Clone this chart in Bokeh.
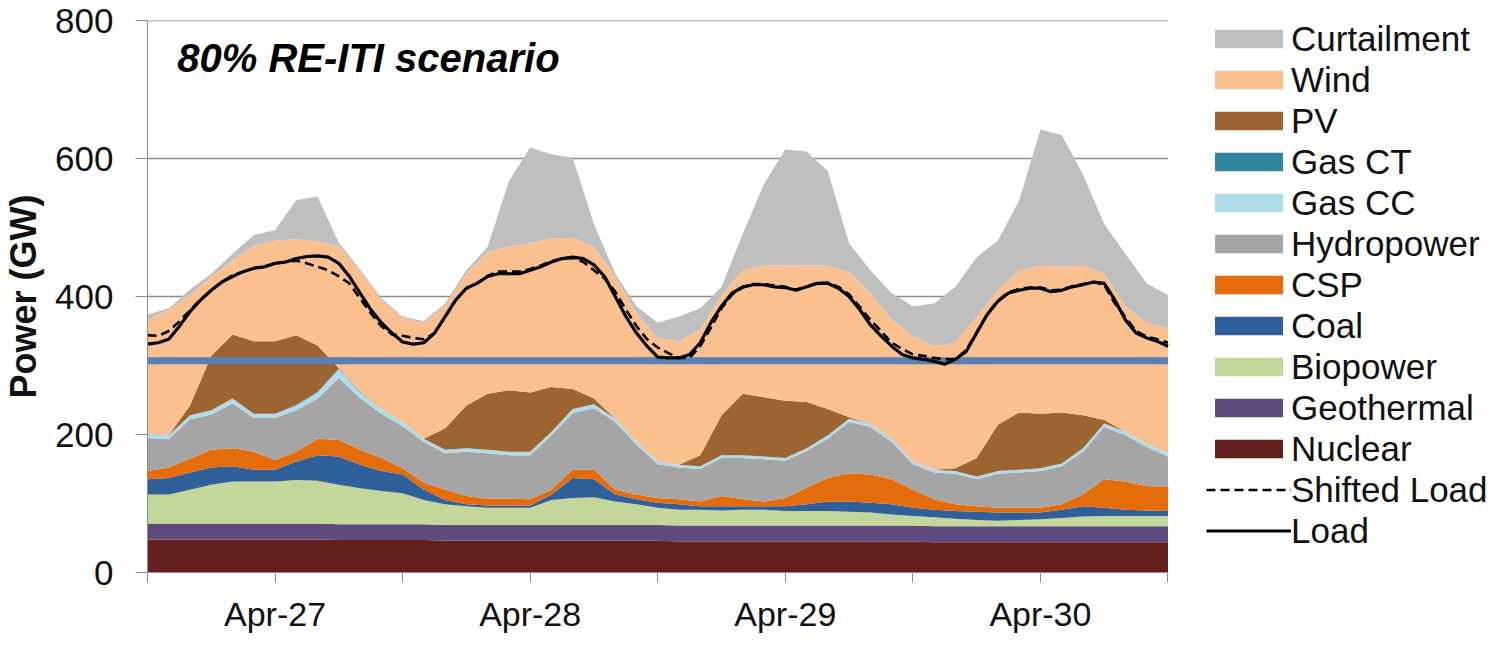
from bokeh.plotting import figure
from bokeh.models import (Range1d, FixedTicker, Legend, LegendItem, Label,
                          ColumnDataSource)
from bokeh.embed import file_html
from bokeh.resources import INLINE

# ---------------- data ----------------
hours = list(range(0, 97, 2))          # 2-hourly points, 27-30 April
load_hours = list(range(0, 97))        # hourly points for the load lines
day_labels = ["Apr-27", "Apr-28", "Apr-29", "Apr-30"]
day_label_hours = [12, 36, 60, 84]
day_tick_hours = [0, 12, 24, 36, 48, 60, 72, 84, 96]
y_ticks = [0, 200, 400, 600, 800]

nuclear = [48, 48, 48, 48, 48, 48, 48, 48, 48, 47, 47, 47, 47, 47, 46, 46, 46, 46, 46, 46, 46, 46, 46, 46, 46,
           45, 45, 45, 45, 45, 45, 45, 45, 45, 45, 45, 45, 44, 44, 44, 44, 44, 44, 44, 44, 44, 44, 44, 44]
geothermal = [23] * 49
biopower = [42, 42, 49, 56, 61, 61, 61, 63, 62, 57, 52, 48, 45, 35, 30, 27, 25, 25, 25, 36, 39, 40, 34, 30, 25,
            23, 23, 22, 23, 23, 21, 21, 21, 20, 19, 16, 14, 13, 11, 9, 8, 9, 10, 12, 14, 15, 15, 15, 15]
coal = [22, 24, 25, 25, 22, 17, 17, 27, 37, 41, 34, 29, 27, 15, 6, 3, 3, 3, 3, 8, 29, 26, 10, 7, 7,
        8, 5, 6, 5, 5, 7, 10, 14, 15, 14, 15, 12, 11, 11, 12, 12, 11, 10, 12, 15, 12, 9, 8, 7]
csp = [12, 15, 20, 26, 26, 26, 14, 14, 24, 24, 22, 19, 9, 10, 15, 12, 10, 10, 9, 7, 12, 14, 7, 7, 7,
       7, 7, 15, 10, 7, 12, 24, 34, 41, 41, 36, 26, 15, 10, 8, 7, 7, 7, 8, 17, 41, 41, 35, 36]
hydropower = [48, 41, 57, 51, 65, 49, 61, 60, 58, 90, 75, 64, 61, 59, 53, 64, 66, 63, 64, 79, 82, 89, 98, 72, 49,
              46, 47, 55, 60, 61, 54, 53, 57, 74, 69, 54, 37, 39, 44, 39, 49, 51, 53, 55, 62, 76, 67, 57, 43]
gas_cc = [6, 6, 6, 6, 7, 6, 6, 7, 9, 13, 8, 7, 6, 5, 5, 5, 5, 5, 5, 5, 6, 6, 5, 5, 4,
          4, 4, 4, 4, 4, 4, 4, 5, 5, 5, 5, 4, 4, 4, 4, 4, 4, 4, 4, 5, 5, 5, 5, 5]
gas_ct = [0, 0, 0, 0, 0, 0, 0, 1, 1, 1, 1, 0, 0, 0, 0, 0, 0, 0, 0, 0, 0, 0, 0, 0, 0,
          0, 0, 0, 0, 0, 0, 0, 0, 0, 0, 0, 0, 0, 0, 0, 0, 0, 0, 0, 0, 0, 0, 0, 0]
pv = [0, 0, 14, 79, 93, 105, 105, 101, 67, 0, 0, 0, 0, 0, 31, 62, 81, 89, 86, 65, 29, 8, 0, 0, 0,
      0, 16, 58, 89, 86, 83, 67, 38, 2, 0, 0, 0, 0, 4, 27, 67, 83, 79, 74, 48, 5, 0, 0, 0]
wind = [165, 182, 160, 115, 108, 139, 146, 139, 151, 177, 175, 158, 151, 168, 177, 191, 206, 208, 216, 215, 219,
        220, 206, 186, 179, 179, 182, 174, 179, 191, 196, 198, 208, 211, 189, 173, 182, 179, 182, 205, 195, 206,
        215, 211, 217, 212, 182, 175, 181]
curtailment = [8, 2, 8, 4, 9, 15, 15, 57, 65, 5, 2, 3, 2, 2, 4, 5, 7, 95, 139, 122, 116, 33, 4, 10, 22,
               36, 31, 12, 53, 118, 168, 165, 137, 41, 33, 38, 43, 62, 81, 86, 72, 101, 197, 191, 132, 72, 76, 57, 48]

load = [331, 333, 338, 357, 378, 395, 409, 421, 429, 436, 441, 443, 448, 450, 455, 458, 459, 457, 448, 429, 405,
        381, 362, 347, 334,
        331, 333, 347, 371, 395, 412, 419, 429, 433, 433, 433, 438, 443, 450, 455, 457, 455, 446, 429, 400, 371,
        347, 328, 312,
        311, 311, 316, 333, 362, 386, 405, 414, 417, 417, 414, 413, 409, 414, 419, 419, 412, 400, 381, 359, 343,
        328, 316, 311,
        309, 306, 302, 309, 320, 347, 374, 393, 405, 409, 412, 412, 407, 409, 414, 417, 421, 419, 395, 366, 347,
        340, 335, 328]
shifted_load = [344, 343, 350, 364, 380, 396, 409, 421, 431, 436, 441, 443, 448, 450, 452, 448, 443, 438, 429, 419,
                397, 376, 357, 345, 343,
                340, 338, 347, 370, 395, 412, 419, 430, 436, 436, 436, 440, 445, 451, 455, 456, 450, 438, 426, 407,
                381, 357, 338, 326,
                318, 311, 311, 328, 355, 383, 403, 413, 418, 418, 416, 414, 410, 414, 420, 420, 414, 403, 385, 366,
                350, 333, 324, 316,
                314, 311, 309, 309, 322, 348, 375, 394, 406, 411, 413, 413, 409, 410, 415, 418, 421, 417, 390, 370,
                350, 342, 338, 333]
threshold_gw = 307

series_names = ["Nuclear", "Geothermal", "Biopower", "Coal", "CSP", "Hydropower",
                "Gas CC", "Gas CT", "PV", "Wind", "Curtailment"]
series_values = [nuclear, geothermal, biopower, coal, csp, hydropower,
                 gas_cc, gas_ct, pv, wind, curtailment]
series_colors = ["#63201f", "#5f4a7e", "#c4d79b", "#30609a", "#e46c0a", "#a5a5a5",
                 "#b0dcea", "#31859c", "#9b6431", "#fac090", "#bfbfbf"]

# ---------------- figure ----------------
x_start, x_end = day_tick_hours[0], day_tick_hours[-1]
# the frame extends to the right edge so that the legend can sit beside the data
frame_px, data_px = 1342, 1022
view_end = x_end * frame_px / data_px

data = {"hours": hours}
for name, vals in zip(series_names, series_values):
    data[name] = vals
src = ColumnDataSource(data)

p = figure(width=1487, height=635, x_range=Range1d(x_start, view_end), y_range=Range1d(0, 800),
           output_backend="svg", toolbar_location=None,
           min_border_left=145, min_border_right=0, min_border_top=20, min_border_bottom=61)
p.outline_line_color = None
p.background_fill_color = "white"
p.border_fill_color = "white"

grey = "#8c8c8c"
# horizontal gridlines limited to the data span
grid_levels = y_ticks[1:]
p.segment(x0=[x_start] * len(grid_levels), x1=[x_end] * len(grid_levels),
          y0=grid_levels, y1=grid_levels, line_color=grey, line_width=1.3)

area_renderers = p.varea_stack(stackers=series_names, x="hours", color=series_colors, source=src)

p.segment(x0=[x_start], x1=[x_end], y0=[threshold_gw], y1=[threshold_gw],
          line_width=7, line_color="#5a7fb5")

r_shift = p.line(load_hours, shifted_load, line_color="black", line_width=2.6, line_dash="9 5")
r_load = p.line(load_hours, load, line_color="black", line_width=3.2)

# axes
p.xaxis.bounds = (x_start, x_end)
p.xaxis.ticker = FixedTicker(ticks=day_tick_hours)
overrides = {t: "" for t in day_tick_hours}
overrides.update({h: lab for h, lab in zip(day_label_hours, day_labels)})
p.xaxis.major_label_overrides = overrides
p.xaxis.major_tick_out = 10
p.xaxis.major_tick_in = 0
p.xaxis.minor_tick_line_color = None
p.xaxis.axis_line_color = grey
p.xaxis.major_tick_line_color = grey
p.xaxis.major_label_text_font = "Liberation Sans"
p.xaxis.major_label_text_font_size = "34px"
p.xaxis.major_label_text_color = "#111111"
p.xaxis.major_label_standoff = 12

p.yaxis.ticker = FixedTicker(ticks=y_ticks)
p.yaxis.major_tick_out = 12
p.yaxis.major_tick_in = 0
p.yaxis.minor_tick_line_color = None
p.yaxis.axis_line_color = grey
p.yaxis.major_tick_line_color = grey
p.yaxis.major_label_text_font = "Liberation Sans"
p.yaxis.major_label_text_font_size = "35px"
p.yaxis.major_label_text_color = "#111111"
p.yaxis.major_label_standoff = 22
p.yaxis.axis_label = "Power (GW)"
p.yaxis.axis_label_text_font = "Liberation Sans"
p.yaxis.axis_label_text_font_style = "bold"
p.yaxis.axis_label_text_font_size = "36px"
p.yaxis.axis_label_text_color = "#111111"
p.yaxis.axis_label_standoff = 8

p.xgrid.visible = False
p.ygrid.visible = False

# title inside the plot
p.add_layout(Label(x=2.8, y=746, text="80% RE-ITI scenario", text_font="Liberation Sans",
                   text_font_style="bold italic", text_font_size="40px", text_color="black",
                   text_baseline="alphabetic", text_align="left"))

# legend, to the right of the data
items = []
for idx in reversed(range(len(series_names))):
    items.append(LegendItem(label=series_names[idx], renderers=[area_renderers[idx]]))
items.append(LegendItem(label="Shifted Load", renderers=[r_shift]))
items.append(LegendItem(label="Load", renderers=[r_load]))

legend = Legend(items=items, location=(1059, 21), orientation="vertical", margin=0,
                glyph_width=85, glyph_height=23, label_height=41, spacing=0, padding=0,
                label_standoff=0, border_line_color=None, background_fill_alpha=0,
                label_text_font="Liberation Sans", label_text_font_size="35px",
                label_text_color="#111111")
p.add_layout(legend)

open("out.html", "w").write(file_html(p, INLINE))
